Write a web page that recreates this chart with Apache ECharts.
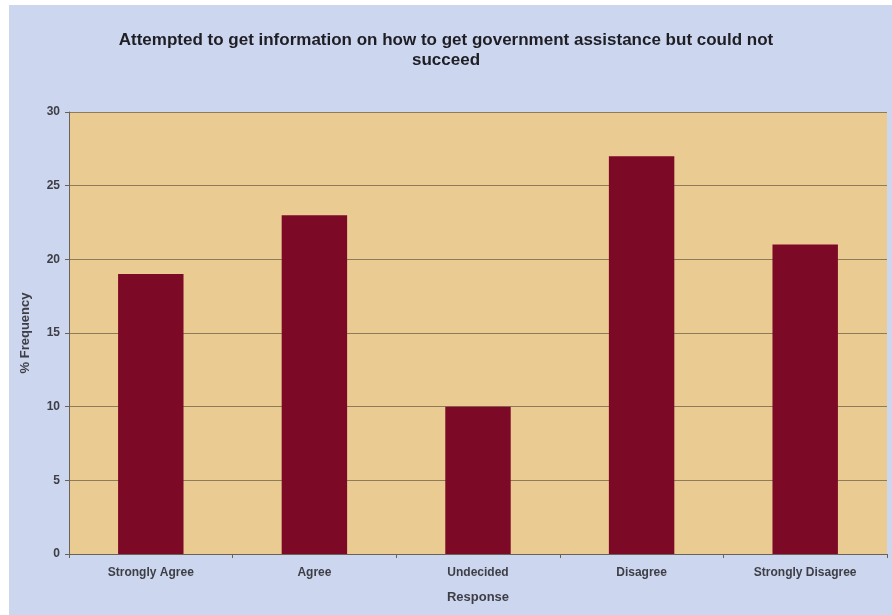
<!DOCTYPE html>
<html>
<head>
<meta charset="utf-8">
<script src="https://cdn.jsdelivr.net/npm/echarts@6/dist/echarts.min.js"></script>
<style>
  html, body { margin: 0; padding: 0; background: #ffffff; }
  #chart { width: 892px; height: 615px; }
</style>
</head>
<body>
<div id="chart"></div>
<script>
// Survey responses (% frequency)
const categories = ['Strongly Agree', 'Agree', 'Undecided', 'Disagree', 'Strongly Disagree'];
const frequency = [19, 23, 10, 27, 21];
const yTicks = { min: 0, max: 30, interval: 5 };

const titleText = 'Attempted to get information on how to get government assistance but could not\nsucceed';

const chart = echarts.init(document.getElementById('chart'), null, { renderer: 'canvas' });

const labelFont = {
  fontFamily: '"Liberation Sans", Arial, sans-serif',
  fontWeight: 'bold',
  color: '#3e3e46'
};

chart.setOption({
  backgroundColor: '#ffffff',
  animation: false,
  graphic: [
    {
      type: 'rect',
      z: -10,
      shape: { x: 9, y: 5, width: 883, height: 610 },
      style: { fill: '#ccd6ee' }
    }
  ],
  title: {
    text: titleText,
    left: 'center',
    top: 25,
    textStyle: {
      fontFamily: '"Liberation Sans", Arial, sans-serif',
      fontWeight: 'bold',
      fontSize: 17,
      lineHeight: 20,
      color: '#1e1e24'
    }
  },
  grid: {
    left: 69,
    right: 5,
    top: 112,
    bottom: 61,
    show: true,
    backgroundColor: '#eacb92',
    borderWidth: 0
  },
  xAxis: {
    type: 'category',
    data: categories,
    name: 'Response',
    nameLocation: 'middle',
    nameGap: 37,
    nameTextStyle: Object.assign({ fontSize: 13 }, labelFont),
    axisLine: { show: true, lineStyle: { color: '#6a6258', width: 1 } },
    axisTick: { show: true, alignWithLabel: false, length: 4, lineStyle: { color: '#6a6258' } },
    axisLabel: Object.assign({ fontSize: 12, margin: 13 }, labelFont)
  },
  yAxis: {
    type: 'value',
    min: yTicks.min,
    max: yTicks.max,
    interval: yTicks.interval,
    name: '% Frequency',
    nameLocation: 'middle',
    nameGap: 37,
    nameRotate: 90,
    nameTextStyle: Object.assign({ fontSize: 13 }, labelFont),
    axisLine: { show: true, lineStyle: { color: '#6a6258', width: 1 } },
    axisTick: { show: true, length: 4, lineStyle: { color: '#6a6258' } },
    axisLabel: Object.assign({ fontSize: 12, margin: 9 }, labelFont),
    splitLine: { show: true, lineStyle: { color: '#8c7c5c', width: 1 } }
  },
  series: [
    {
      type: 'bar',
      data: frequency,
      barWidth: '40%',
      itemStyle: { color: '#7c0a26' }
    }
  ]
});
</script>
</body>
</html>
